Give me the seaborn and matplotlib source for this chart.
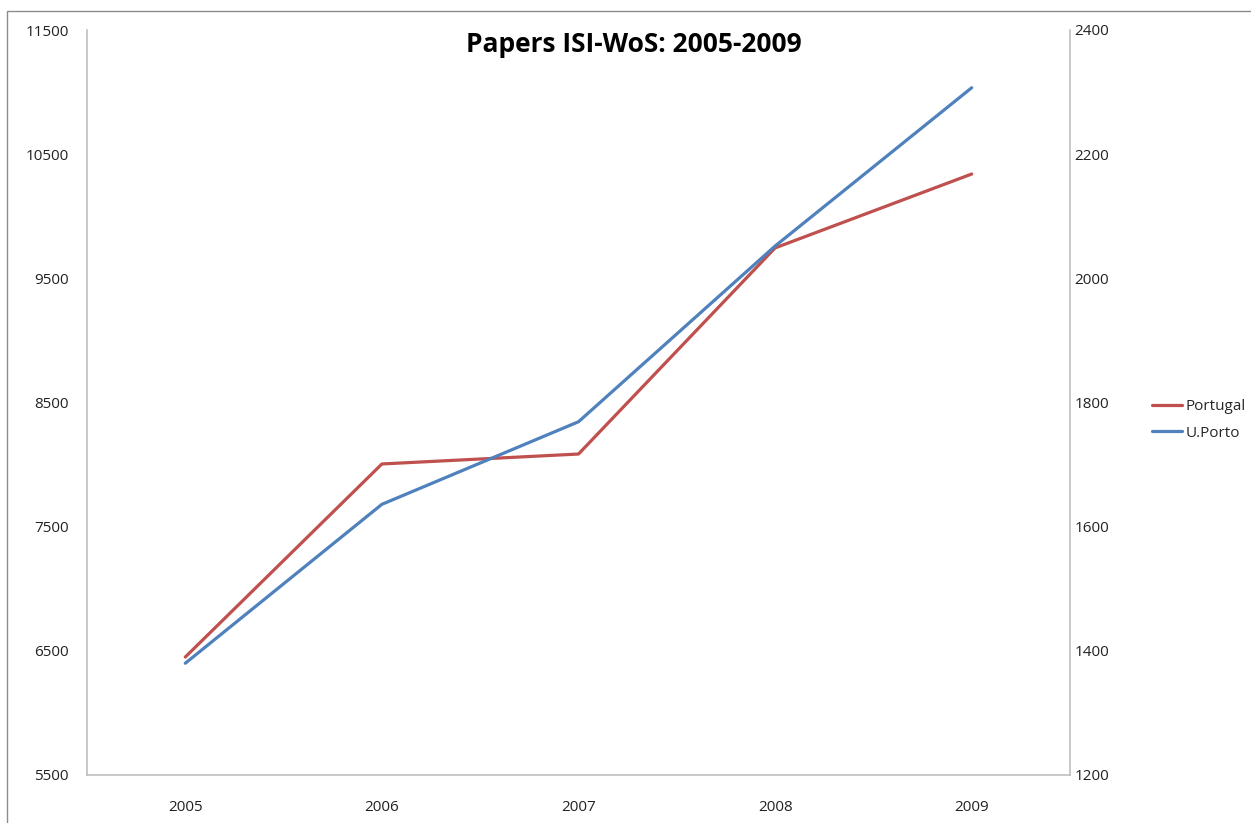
import matplotlib
matplotlib.use("Agg")
import matplotlib.pyplot as plt
import matplotlib.patches as mpatches
from matplotlib.lines import Line2D
import seaborn as sns
import pandas as pd

years = ["2005", "2006", "2007", "2008", "2009"]
portugal = [6450, 8005, 8085, 9745, 10340]
uporto = [1380, 1636, 1769, 2052, 2307]

sns.set_theme(style="white")
plt.rcParams['font.family'] = ['Open Sans', 'DejaVu Sans']

W, H = 1251, 823
fig = plt.figure(figsize=(W / 100, H / 100), dpi=100)
ax = fig.add_axes([87 / W, 1 - 775 / H, (1070 - 87) / W, (775 - 30) / H])
ax2 = ax.twinx()

red = "#C0504D"
blue = "#4F81BD"
df = pd.DataFrame({"x": range(len(years)), "Portugal": portugal, "U.Porto": uporto})
sns.lineplot(data=df, x="x", y="Portugal", ax=ax, color=red, linewidth=2.3, legend=False)
sns.lineplot(data=df, x="x", y="U.Porto", ax=ax2, color=blue, linewidth=2.3, legend=False)

ax.set_xlim(-0.5, len(years) - 0.5)
ax.set_ylim(5500, 11500)
ax2.set_ylim(1200, 2400)
ax.set_yticks(range(5500, 11501, 1000))
ax2.set_yticks(range(1200, 2401, 200))
ax.set_xticks(range(len(years)))
ax.set_xticklabels(years)
for a in (ax, ax2):
    a.set_xlabel("")
    a.set_ylabel("")
    a.tick_params(length=0, labelsize=11, colors="#222222")
    for s in a.spines.values():
        s.set_visible(False)
ax.tick_params(axis="y", pad=13)
ax.tick_params(axis="x", pad=18)
ax2.tick_params(axis="y", pad=3)
grey = "#BFBFBF"
ax.spines["left"].set_visible(True)
ax.spines["bottom"].set_visible(True)
ax2.spines["right"].set_visible(True)
for s in (ax.spines["left"], ax.spines["bottom"], ax2.spines["right"]):
    s.set_color(grey)
    s.set_linewidth(1.2)

fig.text(634 / W, 1 - 45 / H, "Papers ISI-WoS: 2005-2009", ha="center", va="center",
         fontsize=19, fontweight="bold", color="black")

handles = [Line2D([], [], color=red, lw=2.3), Line2D([], [], color=blue, lw=2.3)]
fig.legend(handles, ["Portugal", "U.Porto"], loc="center left",
           bbox_to_anchor=(1138 / W, 1 - 420 / H), frameon=False, fontsize=11,
           handlelength=2.0, handletextpad=0.2, labelspacing=0.75)

fig.patches.append(mpatches.Rectangle((7 / W, -0.01), 1.02, 1 - 11 / H + 0.01,
                                      transform=fig.transFigure, fill=False,
                                      edgecolor="#8C8C8C", linewidth=1.0))

fig.savefig("out.png", dpi=100)
